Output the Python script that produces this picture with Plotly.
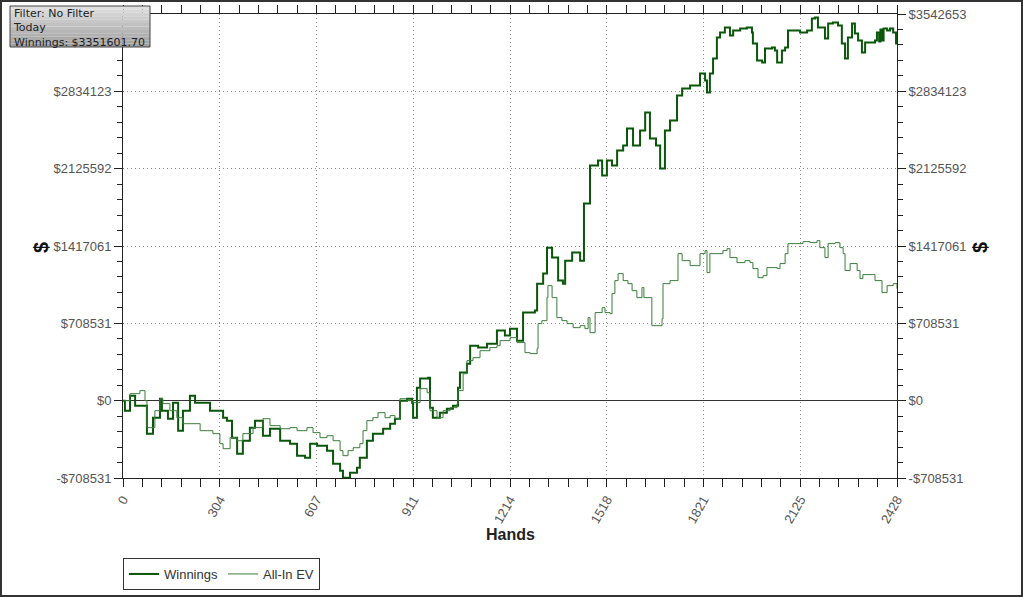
import plotly.graph_objects as go

# ---------------- data (hands, $ thousands) ----------------
win_hands = [0, 6, 22, 38, 63, 75, 94, 116, 122, 141, 157, 173, 188, 210, 226, 264, 273, 314, 326,
             342, 358, 376, 398, 414, 439, 461, 493, 524, 546, 571, 587, 609, 640, 659, 681, 690,
             712, 734, 743, 765, 784, 816, 838, 853, 869, 891, 907, 910, 922, 932, 957, 963, 972,
             994, 1016, 1035, 1051, 1057, 1079, 1089, 1114, 1142, 1173, 1198, 1214, 1236, 1255,
             1292, 1299, 1318, 1330, 1346, 1365, 1380, 1387, 1409, 1434, 1443, 1446, 1465, 1490,
             1503, 1518, 1534, 1550, 1569, 1581, 1600, 1622, 1638, 1653, 1672, 1685, 1700, 1716,
             1738, 1754, 1779, 1810, 1826, 1832, 1841, 1851, 1863, 1873, 1888, 1904, 1914, 1936,
             1957, 1973, 1976, 1989, 2005, 2014, 2036, 2045, 2052, 2067, 2077, 2086, 2124, 2146,
             2161, 2171, 2180, 2193, 2202, 2212, 2227, 2243, 2255, 2265, 2274, 2287, 2296, 2306,
             2318, 2328, 2343, 2359, 2365, 2372, 2376, 2381, 2386, 2397, 2406, 2416, 2425, 2428]
win_k = [0, -92, 46, -46, -46, -302, -156, 18, -92, -165, -18, -275, -92, 46, -18, -18, -92, -156,
         -183, -339, -486, -367, -247, -183, -321, -257, -367, -394, -504, -522, -394, -412, -458,
         -577, -642, -706, -660, -614, -522, -367, -302, -257, -211, -165, 0, 18, -18, -156, 119,
         202, 211, -64, -156, -110, -73, -46, 119, 257, 339, 504, 486, 522, 642, 596, 660, 550,
         807, 825, 1072, 1164, 1402, 1311, 1100, 1072, 1283, 1357, 1283, 1283, 1806, 2154, 2200,
         2062, 2200, 2154, 2292, 2337, 2493, 2337, 2475, 2640, 2401, 2337, 2127, 2475, 2566, 2796,
         2860, 2887, 2997, 2933, 2823, 2997, 3135, 3327, 3373, 3419, 3346, 3391, 3410, 3419, 3373,
         3272, 3116, 3098, 3226, 3236, 3208, 3098, 3208, 3236, 3391, 3373, 3391, 3501, 3510, 3419,
         3419, 3318, 3456, 3465, 3437, 3272, 3135, 3327, 3456, 3364, 3300, 3190, 3281, 3281, 3300,
         3373, 3290, 3401, 3300, 3410, 3391, 3410, 3373, 3272, 3352]

ev_hands = [0, 22, 53, 69, 75, 100, 116, 125, 147, 169, 188, 210, 242, 264, 282, 304, 314, 336, 358,
            376, 408, 439, 461, 493, 524, 546, 577, 596, 618, 640, 659, 681, 690, 706, 722, 743,
            753, 765, 784, 800, 822, 838, 853, 869, 891, 910, 932, 954, 963, 985, 1004, 1026, 1048,
            1051, 1067, 1079, 1098, 1120, 1151, 1173, 1183, 1214, 1236, 1261, 1277, 1299, 1302,
            1314, 1330, 1333, 1346, 1358, 1361, 1377, 1393, 1412, 1434, 1449, 1459, 1465, 1481,
            1503, 1512, 1528, 1534, 1543, 1553, 1569, 1584, 1597, 1612, 1628, 1634, 1653, 1659,
            1675, 1691, 1694, 1716, 1732, 1741, 1754, 1779, 1801, 1810, 1826, 1832, 1841, 1863,
            1882, 1895, 1904, 1926, 1951, 1967, 1976, 1992, 2008, 2020, 2036, 2052, 2061, 2077,
            2086, 2114, 2133, 2155, 2177, 2186, 2202, 2212, 2234, 2249, 2259, 2265, 2281, 2303,
            2312, 2321, 2353, 2359, 2381, 2397, 2416, 2428]
ev_k = [0, 64, 92, 0, -247, -92, 18, -27, -92, -156, -211, -211, -275, -275, -302, -394, -440, -339,
        -367, -302, -247, -165, -229, -257, -247, -275, -247, -293, -339, -321, -367, -458, -504,
        -458, -431, -394, -275, -183, -156, -110, -156, -137, -165, 18, 0, -18, 110, 73, -92, -156,
        -92, -64, -27, 92, 247, 367, 394, 458, 486, 504, 550, 577, 532, 440, 431, 477, 706, 733,
        944, 1054, 944, 944, 761, 733, 706, 669, 687, 660, 761, 623, 807, 852, 807, 797, 981, 1100,
        1164, 1100, 1072, 1008, 944, 1036, 944, 944, 687, 687, 752, 1072, 1100, 1100, 1347, 1283,
        1237, 1237, 1347, 1375, 1173, 1347, 1347, 1375, 1393, 1311, 1265, 1283, 1265, 1210, 1127,
        1146, 1219, 1219, 1210, 1256, 1347, 1439, 1439, 1457, 1448, 1466, 1402, 1311, 1439, 1448,
        1402, 1347, 1192, 1256, 1192, 1118, 1155, 1155, 1100, 990, 1054, 1072, 1027]

x_tickvals = [0, 304, 607, 911, 1214, 1518, 1821, 2125, 2428]
y_tickvals = [-708531, 0, 708531, 1417061, 2125592, 2834123, 3542653]
y_ticktext = ["-$708531", "$0", "$708531", "$1417061", "$2125592", "$2834123", "$3542653"]
# the top-left label is hidden behind the info box in the reference
y_ticktext_left = y_ticktext[:-1] + [""]
info_lines = ["Filter: No Filter", "Today", "Winnings: $3351601.70"]

# ---------------- figure ----------------
W, H = 1023, 597
ML, MR, MT, MB = 123, 126, 14, 119
PW, PH = W - ML - MR, H - MT - MB


def px(xp):
    return (xp - ML) / PW


def py(yp):
    return (H - MB - yp) / PH


fig = go.Figure()
fig.add_trace(go.Scatter(x=win_hands, y=[v * 1000 for v in win_k], mode="lines", name="Winnings",
                         line=dict(color="#0a560a", width=2, shape="hv")))
fig.add_trace(go.Scatter(x=ev_hands, y=[v * 1000 for v in ev_k], mode="lines", name="All-In EV",
                         line=dict(color="#3a7d3a", width=1, shape="hv")))
fig.add_trace(go.Scatter(x=[None], y=[None], yaxis="y2", showlegend=False, hoverinfo="skip"))

tick_font = dict(family="Liberation Sans, Arial, sans-serif", size=13, color="#555555")
yr = [y_tickvals[0], y_tickvals[-1]]
grid_dash = "1px,3px"

fig.update_layout(
    width=W, height=H,
    margin=dict(l=ML, r=MR, t=MT, b=MB, pad=0, autoexpand=False),
    paper_bgcolor="white", plot_bgcolor="white",
    xaxis=dict(range=[0, 2428], tickmode="array", tickvals=x_tickvals,
               ticktext=[str(v) for v in x_tickvals], tickangle=-60, tickfont=tick_font,
               showline=True, linecolor="#222", linewidth=1, mirror="allticks",
               ticks="outside", ticklen=8, tickcolor="#222", automargin=False,
               minor=dict(tickmode="linear", tick0=0, dtick=2428 / 40, ticks="outside",
                          ticklen=5, tickcolor="#222", showgrid=False),
               showgrid=True, gridcolor="#8a8a8a", griddash=grid_dash, gridwidth=1,
               zeroline=False, fixedrange=True),
    yaxis=dict(range=yr, tickmode="array", tickvals=y_tickvals, ticktext=y_ticktext_left,
               tickfont=tick_font, showline=True, linecolor="#222", linewidth=1,
               mirror="allticks", ticks="outside", ticklen=8, tickcolor="#222", automargin=False,
               minor=dict(tickmode="linear", tick0=0, dtick=708531 / 5, ticks="outside",
                          ticklen=5, tickcolor="#222", showgrid=False),
               showgrid=True, gridcolor="#8a8a8a", griddash=grid_dash, gridwidth=1,
               zeroline=True, zerolinecolor="#333", zerolinewidth=1, fixedrange=True),
    yaxis2=dict(range=yr, overlaying="y", side="right", tickmode="array",
                tickvals=y_tickvals, ticktext=y_ticktext, tickfont=tick_font, automargin=False,
                showline=False, showgrid=False, zeroline=False, ticks="outside",
                ticklen=8, tickcolor="rgba(0,0,0,0)", fixedrange=True),
    showlegend=True,
    legend=dict(orientation="h", x=0, y=py(558), xanchor="left", yanchor="top",
                bordercolor="#333", borderwidth=1, bgcolor="white",
                font=dict(family="Liberation Sans, Arial, sans-serif", size=13, color="#333"),
                itemwidth=30, tracegroupgap=0),
)

# outer frame
fig.add_shape(type="rect", xref="paper", yref="paper", x0=px(1), x1=px(1022), y0=py(596), y1=py(1),
              line=dict(color="#333", width=2), fillcolor="rgba(0,0,0,0)", layer="below")

# info box with a light-to-dark gradient
n_strips = 12
top, bot = 6, 47
for i in range(n_strips):
    y0p = top + (bot - top) * i / n_strips
    y1p = top + (bot - top) * (i + 1) / n_strips
    g = int(222 - (222 - 160) * i / (n_strips - 1))
    fig.add_shape(type="rect", xref="paper", yref="paper", x0=px(10), x1=px(150),
                  y0=py(y1p), y1=py(y0p), line=dict(width=0),
                  fillcolor=f"rgb({g},{g},{g})", layer="above")
fig.add_shape(type="rect", xref="paper", yref="paper", x0=px(10), x1=px(150), y0=py(bot), y1=py(top),
              line=dict(color="#444", width=1), fillcolor="rgba(0,0,0,0)", layer="above")
fig.add_annotation(text="<br>".join(info_lines), xref="paper", yref="paper", x=px(11), y=py(5),
                   xanchor="left", yanchor="top", align="left", showarrow=False,
                   font=dict(family="DejaVu Sans, Verdana, sans-serif", size=11, color="#222"))

# axis titles
fig.add_annotation(text="<b>$</b>", xref="paper", yref="paper", x=px(28), y=py(248), textangle=-90,
                   showarrow=False, font=dict(family="Liberation Sans, Arial, sans-serif", size=20,
                                              color="#111"))
fig.add_annotation(text="<b>$</b>", xref="paper", yref="paper", x=px(993), y=py(248), textangle=-90,
                   showarrow=False, font=dict(family="Liberation Sans, Arial, sans-serif", size=20,
                                              color="#111"))
fig.add_annotation(text="<b>Hands</b>", xref="paper", yref="paper", x=px(510), y=py(545),
                   showarrow=False, font=dict(family="Liberation Sans, Arial, sans-serif", size=16,
                                              color="#222"))

fig.write_html("out.html")
